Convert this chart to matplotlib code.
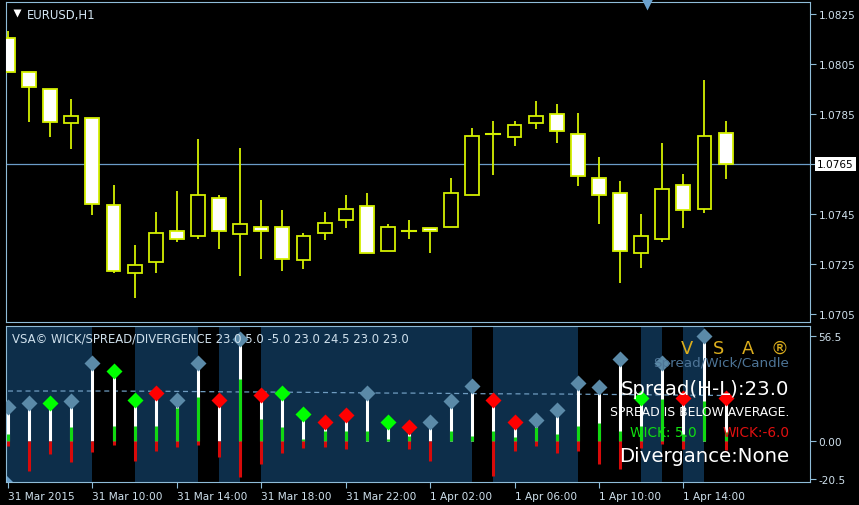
import matplotlib
matplotlib.use("Agg")
import matplotlib.pyplot as plt
import numpy as np
from matplotlib.patches import Rectangle, Polygon
from matplotlib.lines import Line2D

W, H = 859, 506

# ---------------- data ----------------
symbol_title = "EURUSD,H1"
time_labels = ["31 Mar 2015", "31 Mar 10:00", "31 Mar 14:00", "31 Mar 18:00",
               "31 Mar 22:00", "1 Apr 02:00", "1 Apr 06:00", "1 Apr 10:00",
               "1 Apr 14:00"]
time_label_bars = [0, 4, 8, 12, 16, 20, 24, 28, 32]

opens = [1.08156, 1.08018, 1.07949, 1.07815, 1.07835, 1.07485, 1.07213, 1.07257,
         1.07383, 1.07363, 1.07514, 1.07371, 1.07396, 1.07396, 1.07265, 1.07375,
         1.07424, 1.07481, 1.07302, 1.07383, 1.07392, 1.07396, 1.07526, 1.07770,
         1.07758, 1.07815, 1.07851, 1.07770, 1.07595, 1.07534, 1.07294, 1.07351,
         1.07567, 1.07469, 1.07774]
highs = [1.08181, 1.08018, 1.07949, 1.07912, 1.07835, 1.07567, 1.07327, 1.07457,
         1.07542, 1.07750, 1.07526, 1.07713, 1.07506, 1.07465, 1.07375, 1.07457,
         1.07526, 1.07534, 1.07408, 1.07424, 1.07392, 1.07595, 1.07794, 1.07823,
         1.07823, 1.07904, 1.07892, 1.07855, 1.07680, 1.07583, 1.07449, 1.07733,
         1.07611, 1.07986, 1.07823]
lows = [1.08018, 1.07819, 1.07758, 1.07709, 1.07445, 1.07213, 1.07115, 1.07213,
        1.07339, 1.07351, 1.07310, 1.07200, 1.07270, 1.07221, 1.07229, 1.07347,
        1.07392, 1.07294, 1.07302, 1.07351, 1.07294, 1.07396, 1.07526, 1.07607,
        1.07721, 1.07790, 1.07733, 1.07562, 1.07408, 1.07172, 1.07233, 1.07339,
        1.07392, 1.07453, 1.07591]
closes = [1.08018, 1.07957, 1.07819, 1.07843, 1.07489, 1.07221, 1.07245, 1.07375,
          1.07351, 1.07526, 1.07383, 1.07408, 1.07383, 1.07270, 1.07363, 1.07412,
          1.07469, 1.07294, 1.07396, 1.07383, 1.07383, 1.07534, 1.07762, 1.07770,
          1.07807, 1.07843, 1.07782, 1.07603, 1.07526, 1.07302, 1.07363, 1.07550,
          1.07465, 1.07762, 1.07648]

current_price = 1.0765
price_ticks = [1.0705, 1.0725, 1.0745, 1.0765, 1.0785, 1.0805, 1.0825]

# indicator (pips)
spread = [18.3, 20.4, 20.4, 21.5, 42.0, 37.7, 22.0, 25.8, 22.0, 42.0, 22.0, 55.0,
          24.8, 25.8, 14.5, 10.2, 14.0, 25.8, 10.2, 7.5, 10.2, 21.5, 29.6, 22.0,
          10.2, 11.3, 16.7, 31.2, 29.0, 44.0, 23.0, 42.0, 23.0, 56.5, 23.0]
wick_up = [3.8, 0.0, 0.0, 7.5, 0.0, 8.0, 8.0, 8.0, 18.0, 23.7, 0.0, 33.4,
           11.8, 7.5, 1.0, 5.4, 5.4, 5.4, 1.0, 2.7, 0.0, 5.4, 2.7, 5.4,
           2.0, 7.5, 3.8, 8.0, 9.7, 5.4, 8.0, 22.6, 4.0, 21.5, 5.0]
wick_down = [-2.7, -16.0, -7.0, -11.3, -6.0, -2.0, -11.0, -5.4, -3.0, -2.0, -8.6, -19.4,
             -12.4, -6.5, -4.0, -3.0, -4.3, 0.0, 0.0, -4.3, -10.8, 0.0, 0.0, -18.8,
             -5.4, -2.7, -6.5, -5.4, -12.4, -15.0, -4.0, -1.5, -4.3, 0.0, -5.0]
spread_avg = [26.9, 26.9, 26.9, 26.9, 26.9, 26.9, 26.8, 26.8, 26.7, 26.6, 26.5, 26.4,
              26.4, 26.3, 26.2, 26.1, 26.0, 25.9, 25.8, 25.8, 25.7, 25.6, 25.5, 25.4,
              25.4, 25.3, 25.3, 25.2, 25.1, 25.0, 24.9, 24.8, 24.7, 24.6, 24.5]
# n = neutral (grey), g = green, r = red
diamond_kind = ["n", "n", "g", "n", "n", "g", "g", "r", "n", "n", "r", "n",
                "r", "g", "g", "r", "r", "n", "g", "r", "n", "n", "n", "r",
                "r", "n", "n", "n", "n", "n", "g", "n", "r", "n", "r"]
band_blue = [1, 1, 1, 1, 0, 0, 1, 1, 1, 0, 1, 0,
             1, 1, 1, 1, 1, 1, 1, 1, 1, 1, 0, 1,
             1, 1, 1, 0, 0, 0, 1, 0, 1, 0, 0]
ind_ticks = [-20.5, 0.0, 56.5]
ind_tick_labels = ["-20.5", "0.00", "56.5"]
ind_title = "VSA\u00a9 WICK/SPREAD/DIVERGENCE 23.0 5.0 -5.0 23.0 24.5 23.0 23.0"

# ---------------- styles ----------------
BORDER = "#8fbcd8"
TXT = "#cfe0ec"
CANDLE = "#d4f000"
BAND = "#0d2e4a"
GREY_D = "#5b8aa8"

def fx(px):
    return px / W

def fy(py):
    return 1 - py / H

fig = plt.figure(figsize=(W / 100, H / 100), dpi=100, facecolor="black")

ax = fig.add_axes([fx(6), fy(323), (810 - 6) / W, (323 - 3) / H])
ax2 = fig.add_axes([fx(6), fy(483), (810 - 6) / W, (483 - 327) / H])

n = len(opens)
x = np.arange(n)
xmin, xmax = -0.095, 38.0

for a in (ax, ax2):
    a.set_facecolor("black")
    a.set_xlim(xmin, xmax)
    for s in a.spines.values():
        s.set_color(BORDER)
        s.set_linewidth(0.8)

# ---------------- main chart ----------------
ax.set_ylim(1.07017, 1.08299)
bw = 0.66
for i in range(n):
    o, h, l, c = opens[i], highs[i], lows[i], closes[i]
    ax.plot([i, i], [l, h], color=CANDLE, lw=1.3, zorder=2, solid_capstyle="butt")
    bottom = min(o, c)
    height = abs(c - o)
    if height < 1e-6:
        ax.plot([i - bw / 2, i + bw / 2], [o, o], color=CANDLE, lw=1.5, zorder=3)
    else:
        face = "white" if c < o else "black"
        ax.add_patch(Rectangle((i - bw / 2, bottom), bw, height, facecolor=face,
                               edgecolor=CANDLE, lw=1.3, zorder=3))

ax.axhline(current_price, color="#6a9cc8", lw=0.9, zorder=1)

ax.yaxis.tick_right()
ax.set_yticks(price_ticks)
ax.set_yticklabels(["" if abs(t - current_price) < 1e-9 else f"{t:.4f}" for t in price_ticks])
ax.tick_params(axis="y", direction="out", length=4, width=0.8, color=BORDER,
               labelcolor=TXT, labelsize=7.6, pad=2.5)
ax.set_xticks([])
ax.text(1.0, current_price, f"{current_price:.4f}", transform=ax.get_yaxis_transform(),
        ha="left", va="center", fontsize=7.6, color="black",
        bbox=dict(boxstyle="square,pad=0.2", facecolor="white", edgecolor="none"),
        clip_on=False, zorder=10)
# shift the box text a bit right of the border
ax.texts[-1].set_position((1.0 + 7 / (810 - 6), current_price))

# title of main chart
fig.text(fx(27), fy(18.5), symbol_title, color="#d4e6f3", fontsize=8.4,
         ha="left", va="baseline")
fig.add_artist(Line2D([fx(16.5)], [fy(14)], marker="v", markersize=5.5,
                      color="white", mec="none", transform=fig.transFigure))
fig.add_artist(Line2D([fx(647)], [fy(5)], marker="v", markersize=8,
                      color="#6aa0cc", mec="none", transform=fig.transFigure))

# ---------------- indicator ----------------
ax2.set_ylim(-22.07, 61.9)
for i in range(n):
    if band_blue[i]:
        left = i - 1 if i == 0 else i
        ax2.axvspan(left, i + 1, color=BAND, lw=0, zorder=0)

ax2.plot(x, spread_avg, color="#6f9cc0", lw=0.9, ls=(0, (4, 3)), zorder=1)

ax2.vlines(x, 0, spread, colors="white", lw=2.2, zorder=3)
ax2.vlines(x, 0, wick_up, colors="#12d812", lw=2.2, zorder=4)
ax2.vlines(x, wick_down, 0, colors="#d80a0a", lw=2.2, zorder=4)

kind_colors = {"n": GREY_D, "g": "#00ff00", "r": "#ff0000"}
sp = np.array(spread)
kinds = np.array(diamond_kind)
for k, col in kind_colors.items():
    m = kinds == k
    ax2.plot(x[m], sp[m], "D", markersize=8.5, color=col, mec="none", zorder=5)

ax2.yaxis.tick_right()
ax2.set_yticks(ind_ticks)
ax2.set_yticklabels(ind_tick_labels)
ax2.tick_params(axis="y", direction="out", length=4, width=0.8, color=BORDER,
                labelcolor=TXT, labelsize=7.6, pad=2.0)
ax2.set_xticks(time_label_bars)
ax2.set_xticklabels(time_labels)
ax2.tick_params(axis="x", direction="out", length=4, width=0.8, color=BORDER,
                labelcolor=TXT, labelsize=7.6, pad=2.5)
for lab in ax2.get_xticklabels():
    lab.set_ha("left")

# tiny corner triangle
fig.add_artist(Polygon([[fx(7), fy(477)], [fx(7), fy(483)], [fx(12.5), fy(483)]],
                       closed=True, facecolor="#6aa0cc", edgecolor="none",
                       transform=fig.transFigure))

# indicator title
fig.text(fx(12), fy(343), ind_title, color=TXT, fontsize=8.4, ha="left",
         va="baseline", zorder=6)

# right side info panel
for ch, cx in zip(["V", "S", "A", "\u00ae"], [687, 718, 748, 779]):
    fig.text(fx(cx), fy(354), ch, color="#dcae1d", fontsize=12.8, ha="center",
             va="baseline", zorder=1)
fig.text(fx(789), fy(367), "Spread/Wick/Candle", color="#4d7496", fontsize=9.7,
         ha="right", va="baseline", zorder=1)
fig.text(fx(789), fy(395), "Spread(H-L):23.0", color="white", fontsize=14.2,
         ha="right", va="baseline", zorder=1)
fig.text(fx(789), fy(416), "SPREAD IS BELOW AVERAGE.", color="white", fontsize=8.9,
         ha="right", va="baseline", zorder=1)
fig.text(fx(630), fy(437), "WICK: 5.0", color="#10e010", fontsize=9.8,
         ha="left", va="baseline", zorder=1)
fig.text(fx(790), fy(437), "WICK:-6.0", color="#e01010", fontsize=9.8,
         ha="right", va="baseline", zorder=1)
fig.text(fx(789), fy(462), "Divergance:None", color="white", fontsize=14.2,
         ha="right", va="baseline", zorder=1)

fig.savefig("out.png", dpi=100, facecolor="black")
